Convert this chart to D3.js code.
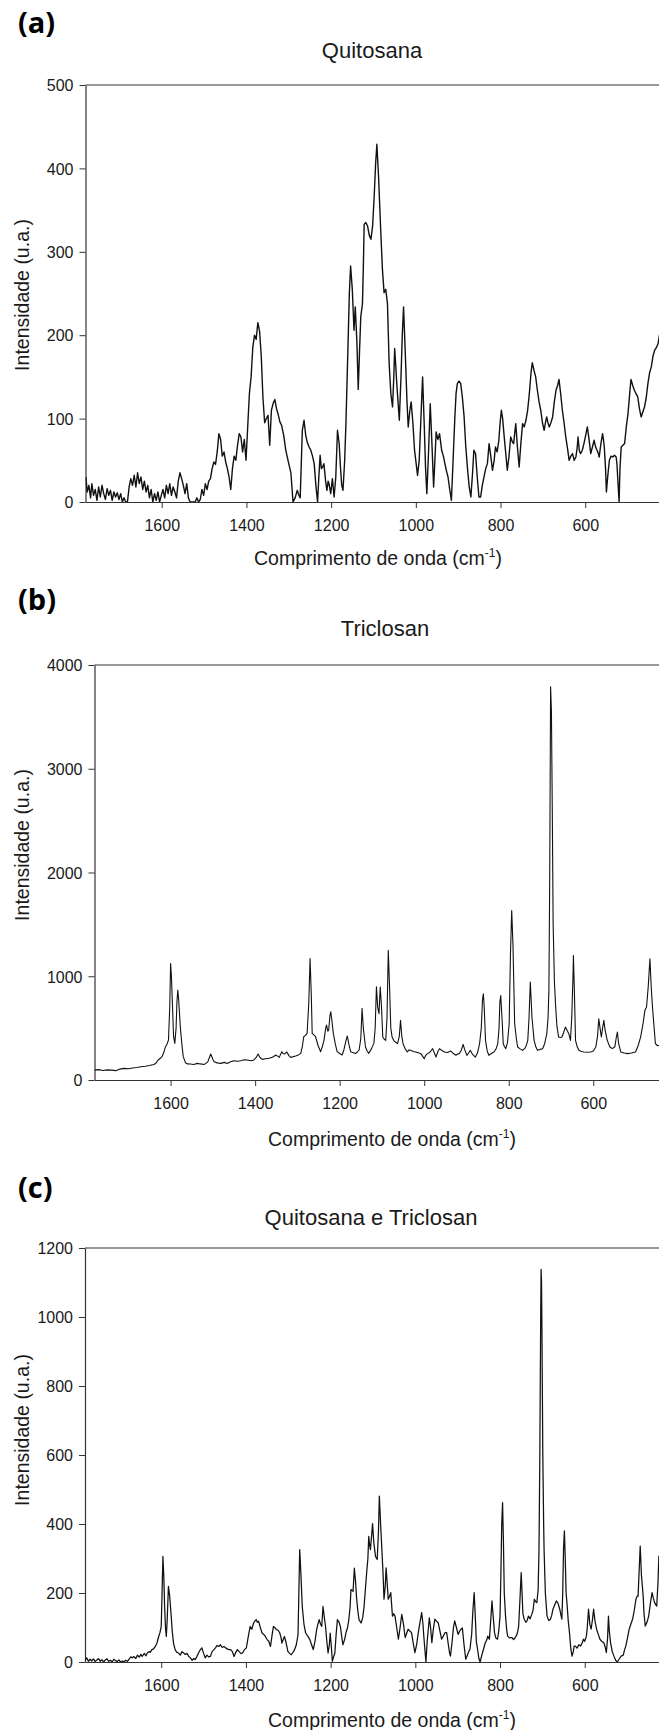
<!DOCTYPE html>
<html><head><meta charset="utf-8">
<script src="https://cdn.jsdelivr.net/npm/d3@7"></script>
<style>body{margin:0;background:#fff}</style>
</head><body>
<svg id="chart" width="659" height="1730"></svg>
<script>
// ---------- DATA ----------
const xTicks = [1600, 1400, 1200, 1000, 800, 600];
const yTicksA = [0, 100, 200, 300, 400, 500];
const yTicksB = [0, 1000, 2000, 3000, 4000];
const yTicksC = [0, 200, 400, 600, 800, 1000, 1200];

// (a) Quitosana
const qWave = [1779,1776,1772,1768,1765,1761,1757,1753,1749,1745,1741,1737,1733,1729,1725,1721,1717,1713,1709,1705,1701,1697,1693,1689,1685,1681,1677,1673,1669,1665,1661,1657,1653,1649,1645,1641,1637,1633,1629,1625,1621,1617,1613,1609,1605,1601,1597,1593,1589,1585,1581,1577,1573,1569,1565,1561,1557,1553,1549,1545,1541,1537,1533,1529,1525,1521,1517,1513,1509,1505,1501,1497,1493,1489,1485,1481,1477,1473,1469,1465,1461,1457,1453,1449,1445,1441,1437,1433,1429,1425,1421,1417,1413,1409,1405,1401,1397,1393,1389,1385,1381,1377,1373,1369,1365,1361,1357,1353,1349,1345,1341,1337,1333,1329,1325,1321,1317,1312,1307,1301,1295,1290,1285,1280,1276,1273,1268,1264,1260,1256,1252,1248,1244,1240,1236,1232,1229,1226,1223,1220,1217,1213,1210,1207,1205,1201,1197,1193,1189,1185,1181,1178,1175,1172,1168,1165,1160,1157,1154,1150,1146,1143,1139,1136,1133,1130,1126,1124,1122,1118,1114,1110,1106,1102,1098,1095,1092,1088,1083,1079,1075,1071,1067,1063,1059,1055,1052,1050,1047,1045,1042,1039,1035,1032,1029,1025,1021,1018,1014,1011,1007,1003,999,996,992,988,984,980,977,974,970,966,962,958,955,952,948,944,941,939,935,931,928,924,920,916,912,908,905,902,898,894,890,886,882,878,874,870,866,863,859,855,851,847,843,839,835,831,827,823,819,815,812,808,804,801,798,795,792,788,784,780,776,772,769,766,764,760,756,752,748,744,740,736,732,728,725,721,717,713,709,705,701,697,694,691,688,685,681,677,673,669,665,662,658,654,650,646,642,638,634,630,626,622,619,617,614,611,607,603,599,595,591,587,583,579,575,572,569,567,563,559,557,555,552,550,547,543,539,535,531,527,525,523,520,518,515,511,507,503,499,495,492,488,484,480,476,472,468,464,460,456,452,448,444,440,436,432,428,424,420];
const qInt = [30,12,20,5,22,8,15,2,18,6,20,10,3,16,8,14,2,12,6,11,3,10,0,5,0,0,18,28,20,32,18,35,22,30,15,25,12,20,5,15,0,10,2,12,0,8,15,5,20,10,22,8,18,12,5,25,35,28,20,10,22,5,0,0,0,0,5,0,3,15,8,22,15,25,28,40,48,45,60,82,75,55,60,48,40,30,15,40,55,50,68,82,78,60,75,50,90,130,150,185,200,195,215,205,175,125,95,100,104,68,110,118,123,112,105,96,92,80,62,48,35,0,5,14,8,5,86,98,80,71,66,62,55,46,20,0,30,56,40,42,46,25,14,25,22,10,28,6,30,86,70,42,20,14,50,95,190,250,283,255,206,234,190,135,180,222,238,280,333,335,331,320,315,331,370,405,429,390,327,280,251,255,238,166,130,114,150,184,160,142,120,98,150,200,234,180,122,90,110,120,95,62,45,32,50,100,150,90,40,10,60,118,70,18,50,84,75,82,70,62,55,45,38,30,15,2,50,100,130,142,145,142,125,102,66,40,18,6,35,62,58,30,6,6,20,30,40,46,70,55,38,50,66,60,74,95,110,100,82,60,38,55,78,72,70,85,94,65,42,70,94,90,98,110,130,155,167,158,150,134,120,110,95,86,95,102,95,90,95,102,120,134,140,147,130,110,95,78,65,50,55,58,50,54,65,78,62,58,62,70,80,90,75,58,66,74,65,62,58,54,70,82,75,66,40,12,30,50,55,54,56,54,45,26,0,40,66,68,70,90,106,130,147,140,134,130,126,112,102,108,114,125,142,155,162,175,182,185,190,202,205];

// (b) Triclosan
const tWave = [1780,1770,1760,1750,1740,1730,1720,1710,1700,1690,1680,1670,1660,1650,1640,1635,1630,1627,1620,1615,1612,1608,1605,1602,1600,1598,1596,1593,1590,1587,1585,1583,1581,1577,1573,1570,1565,1560,1553,1545,1537,1530,1520,1512,1505,1500,1497,1490,1481,1473,1466,1458,1450,1442,1434,1426,1419,1410,1403,1397,1393,1388,1383,1375,1367,1359,1351,1347,1343,1337,1334,1331,1325,1320,1316,1310,1304,1298,1292,1288,1285,1281,1277,1273,1270,1267,1265,1260,1257,1251,1245,1241,1237,1233,1231,1228,1226,1223,1221,1218,1215,1210,1206,1200,1194,1190,1185,1182,1178,1174,1168,1162,1158,1154,1150,1147,1144,1139,1135,1131,1125,1119,1116,1113,1110,1107,1104,1101,1098,1094,1091,1088,1085,1082,1079,1076,1072,1068,1063,1059,1056,1053,1050,1045,1040,1036,1032,1026,1020,1014,1008,1004,1000,996,992,986,980,976,972,968,964,958,952,945,937,931,925,921,917,912,908,904,899,895,891,886,879,874,869,865,862,860,858,855,851,847,841,835,830,826,823,821,819,816,813,810,807,803,799,796,793,790,786,782,779,773,767,761,758,755,752,749,745,740,736,732,726,720,715,710,707,705,703,701,699,697,695,692,689,686,682,678,674,670,666,662,658,654,651,648,647,645,642,638,634,628,622,614,606,600,594,590,587,584,581,578,575,572,567,561,555,549,546,543,540,535,527,519,510,500,494,488,482,478,474,470,466,463,460,456,453,448,443,435,425,415];
const tInt = [95,100,92,98,95,90,105,112,108,115,120,128,132,140,150,160,190,200,225,280,321,350,385,700,1123,1000,770,420,353,500,750,867,780,514,330,225,167,155,154,150,160,155,150,175,250,200,177,165,160,170,160,175,186,180,186,195,193,185,193,220,250,215,199,205,209,220,241,230,218,273,255,250,270,235,218,225,231,240,257,330,417,430,449,750,1171,800,449,430,417,330,273,320,385,500,530,470,480,620,658,560,449,340,273,255,241,290,380,424,340,273,262,257,270,289,400,690,500,321,280,257,300,353,500,899,700,640,896,700,414,390,382,600,1249,900,500,414,380,366,350,420,575,420,350,300,270,290,286,275,270,262,254,230,205,240,254,270,302,260,221,270,302,285,270,265,279,255,238,250,254,290,343,290,238,260,286,250,221,260,350,500,780,831,700,382,280,238,255,270,300,350,500,750,815,600,350,320,302,360,542,1200,1634,1300,542,400,318,300,286,310,340,382,600,944,600,382,320,286,295,302,350,446,600,864,2000,3790,3550,2600,1505,950,703,520,414,410,414,460,510,480,446,382,600,1000,1200,900,382,320,286,275,270,268,270,280,318,420,590,500,414,500,575,480,382,320,302,320,400,462,350,270,260,254,260,270,330,414,550,671,703,900,1168,900,703,500,350,330,334,330,320,330];

// (c) Quitosana e Triclosan
const cWave = [1780,1776,1772,1768,1764,1760,1756,1752,1748,1744,1740,1736,1732,1728,1724,1720,1716,1712,1708,1704,1700,1696,1692,1688,1684,1680,1676,1672,1668,1665,1660,1656,1652,1648,1645,1640,1636,1633,1629,1626,1622,1618,1614,1610,1606,1603,1600,1598,1596,1594,1592,1590,1588,1586,1583,1580,1577,1574,1571,1567,1563,1559,1555,1551,1547,1543,1539,1535,1531,1527,1523,1520,1516,1512,1508,1504,1500,1496,1492,1488,1484,1480,1476,1472,1468,1464,1460,1456,1452,1448,1444,1440,1436,1432,1428,1424,1420,1416,1412,1408,1404,1399,1395,1390,1386,1382,1378,1376,1373,1370,1366,1362,1358,1354,1350,1346,1342,1338,1335,1332,1328,1324,1320,1317,1315,1312,1309,1305,1301,1297,1293,1289,1285,1281,1277,1275,1273,1270,1267,1263,1259,1254,1249,1245,1241,1237,1233,1230,1227,1224,1221,1218,1215,1212,1209,1206,1203,1201,1198,1196,1193,1190,1187,1184,1180,1177,1174,1171,1167,1164,1160,1157,1154,1152,1147,1144,1141,1139,1136,1133,1128,1124,1121,1118,1115,1112,1110,1108,1106,1103,1101,1098,1094,1090,1087,1085,1082,1079,1076,1074,1071,1069,1066,1064,1061,1058,1054,1051,1048,1044,1040,1036,1032,1028,1024,1020,1017,1013,1009,1005,1001,997,993,989,985,982,980,977,975,972,969,967,964,961,958,954,950,946,942,938,934,930,926,922,919,917,913,910,907,903,899,895,892,889,885,881,877,874,871,867,864,861,858,856,853,850,847,843,839,835,831,829,827,825,822,819,816,813,810,806,803,800,798,796,794,792,790,787,784,782,778,772,768,764,760,758,756,753,750,748,746,743,739,736,733,729,725,722,719,716,713,710,708,706,704,703,702,701,699,697,696,693,689,685,681,678,675,671,667,663,659,656,654,652,650,648,646,644,642,639,636,633,630,627,625,622,618,614,610,606,603,600,596,594,591,588,585,582,579,576,572,568,564,560,555,552,549,546,544,542,539,535,531,527,523,519,514,509,506,503,499,495,491,487,483,479,476,474,472,469,466,462,460,457,453,449,445,441,438,435,432,430,427,425,423,420];
const cInt = [5,12,2,8,3,9,1,6,10,2,7,0,6,9,2,5,0,8,4,1,6,0,3,0,5,2,8,15,12,16,10,20,14,22,16,25,18,26,30,28,36,38,45,55,74,85,103,200,306,250,161,100,74,120,219,190,142,90,55,35,28,26,20,30,26,22,25,16,12,5,10,7,15,26,35,41,25,12,20,15,16,30,35,41,48,45,50,42,45,41,38,36,36,30,16,28,36,30,25,26,35,41,70,103,95,113,120,123,115,118,100,84,80,74,65,60,45,80,103,100,94,92,84,70,55,65,74,55,31,25,21,28,36,50,79,200,326,250,161,110,84,75,65,50,36,60,94,110,123,110,103,161,130,103,60,26,50,84,40,2,15,26,80,123,115,103,75,50,65,84,100,123,160,210,205,272,230,190,150,123,113,130,161,210,258,300,364,340,326,370,401,346,306,297,380,481,400,326,250,182,220,273,220,182,190,201,133,140,133,100,66,100,138,110,71,85,95,90,85,55,27,50,85,115,143,110,75,30,0,60,100,128,100,56,90,124,118,114,90,66,75,85,85,50,25,17,60,100,119,100,80,90,95,99,50,8,20,30,37,80,150,201,120,60,37,10,0,20,37,55,65,75,70,66,120,177,130,85,70,66,90,133,250,400,462,350,200,133,90,75,70,71,65,71,80,90,104,180,259,200,140,124,115,120,133,125,138,150,182,175,172,210,326,600,1000,1138,1100,954,600,400,326,200,133,120,124,135,153,165,177,170,153,135,124,200,330,380,300,200,172,120,85,40,17,30,46,46,40,50,46,55,66,60,75,100,153,110,95,120,153,120,95,80,66,60,56,45,27,70,133,90,56,30,17,5,0,8,17,20,35,46,70,95,110,124,150,182,191,191,250,336,250,191,140,104,115,133,170,201,185,172,165,162,230,307,250,200];

// ---------- LAYOUT ----------
const W = 659;
const panels = [
  {tag:"(a)", title:"Quitosana", wave:qWave, val:qInt, yMax:500, yTicks:yTicksA, lw:1.4,
   left:85.5, k:0.4235, y0:502, yTop:85, tagY:33, titleX:372, titleY:58, yLabY:295, xLabX:378, xLabY:565},
  {tag:"(b)", title:"Triclosan", wave:tWave, val:tInt, yMax:4000, yTicks:yTicksB, lw:1.1,
   left:94.5, k:0.4227, y0:1080, yTop:665, tagY:610, titleX:385, titleY:636, yLabY:845, xLabX:392, xLabY:1146},
  {tag:"(c)", title:"Quitosana e Triclosan", wave:cWave, val:cInt, yMax:1200, yTicks:yTicksC, lw:1.25,
   left:85, k:0.4235, y0:1662, yTop:1248, tagY:1198, titleX:371, titleY:1225, yLabY:1430, xLabX:392, xLabY:1727}
];

const svg = d3.select("#chart");
svg.append("rect").attr("width", W).attr("height", 1730).attr("fill", "#fff");
const FONT = "'Liberation Sans', Arial, Helvetica, sans-serif";
const INK = "#1a1a1a";

panels.forEach((p, i) => {
  const x = d3.scaleLinear().domain([1780, 400]).range([p.left, p.left + 1380 * p.k]);
  const y = d3.scaleLinear().domain([0, p.yMax]).range([p.y0, p.yTop]);
  const g = svg.append("g");

  const cid = "clip" + i;
  svg.append("clipPath").attr("id", cid).append("rect")
    .attr("x", p.left).attr("y", p.yTop - 2).attr("width", W - p.left).attr("height", p.y0 - p.yTop + 2);

  // frame top line
  g.append("line").attr("x1", p.left).attr("x2", W).attr("y1", p.yTop).attr("y2", p.yTop)
    .attr("stroke", "#333").attr("stroke-width", 1.2);

  // x axis
  const xa = g.append("g").attr("transform", `translate(0,${p.y0})`)
    .call(d3.axisBottom(x).tickValues(xTicks).tickSize(6).tickSizeOuter(0).tickFormat(d3.format("d")));
  xa.select(".domain").attr("stroke", "#333").attr("stroke-width", 1.2);
  xa.selectAll(".tick line").attr("stroke", "#333");
  xa.selectAll("text").attr("y", 29).attr("dy", null)
    .attr("font-family", FONT).attr("font-size", 16).attr("fill", INK);

  // y axis
  const ya = g.append("g").attr("transform", `translate(${p.left},0)`)
    .call(d3.axisLeft(y).tickValues(p.yTicks).tickSize(6).tickSizeOuter(0).tickFormat(d3.format("d")));
  ya.select(".domain").attr("stroke", "#333").attr("stroke-width", 1.2);
  ya.selectAll(".tick line").attr("stroke", "#333");
  ya.selectAll("text").attr("x", -12).attr("dy", "0.36em")
    .attr("font-family", FONT).attr("font-size", 16).attr("fill", INK);

  // spectrum
  const pts = p.wave.map((w, j) => [w, p.val[j]]);
  g.append("path").datum(pts)
    .attr("clip-path", `url(#${cid})`)
    .attr("fill", "none").attr("stroke", "#111").attr("stroke-width", p.lw)
    .attr("stroke-linejoin", "round")
    .attr("d", d3.line().x(d => x(d[0])).y(d => y(d[1])));

  // panel tag
  svg.append("text").attr("x", 18).attr("y", p.tagY).text(p.tag)
    .attr("font-family", "'Open Sans', Lato, sans-serif").attr("font-weight", 700)
    .attr("font-size", 29).attr("fill", "#000");

  // title
  svg.append("text").attr("x", p.titleX).attr("y", p.titleY).attr("text-anchor", "middle")
    .attr("font-family", FONT).attr("font-size", 22).attr("fill", INK).text(p.title);

  // y label
  svg.append("text").attr("transform", `translate(29,${p.yLabY}) rotate(-90)`)
    .attr("text-anchor", "middle").attr("font-family", FONT).attr("font-size", 19.5)
    .attr("fill", INK).text("Intensidade (u.a.)");

  // x label
  const xl = svg.append("text").attr("x", p.xLabX).attr("y", p.xLabY).attr("text-anchor", "middle")
    .attr("font-family", FONT).attr("font-size", 19.5).attr("fill", INK);
  xl.append("tspan").text("Comprimento de onda (cm");
  xl.append("tspan").attr("dy", -8).attr("font-size", 12).text("-1");
  xl.append("tspan").attr("dy", 8).text(")");
});
</script>
</body></html>
